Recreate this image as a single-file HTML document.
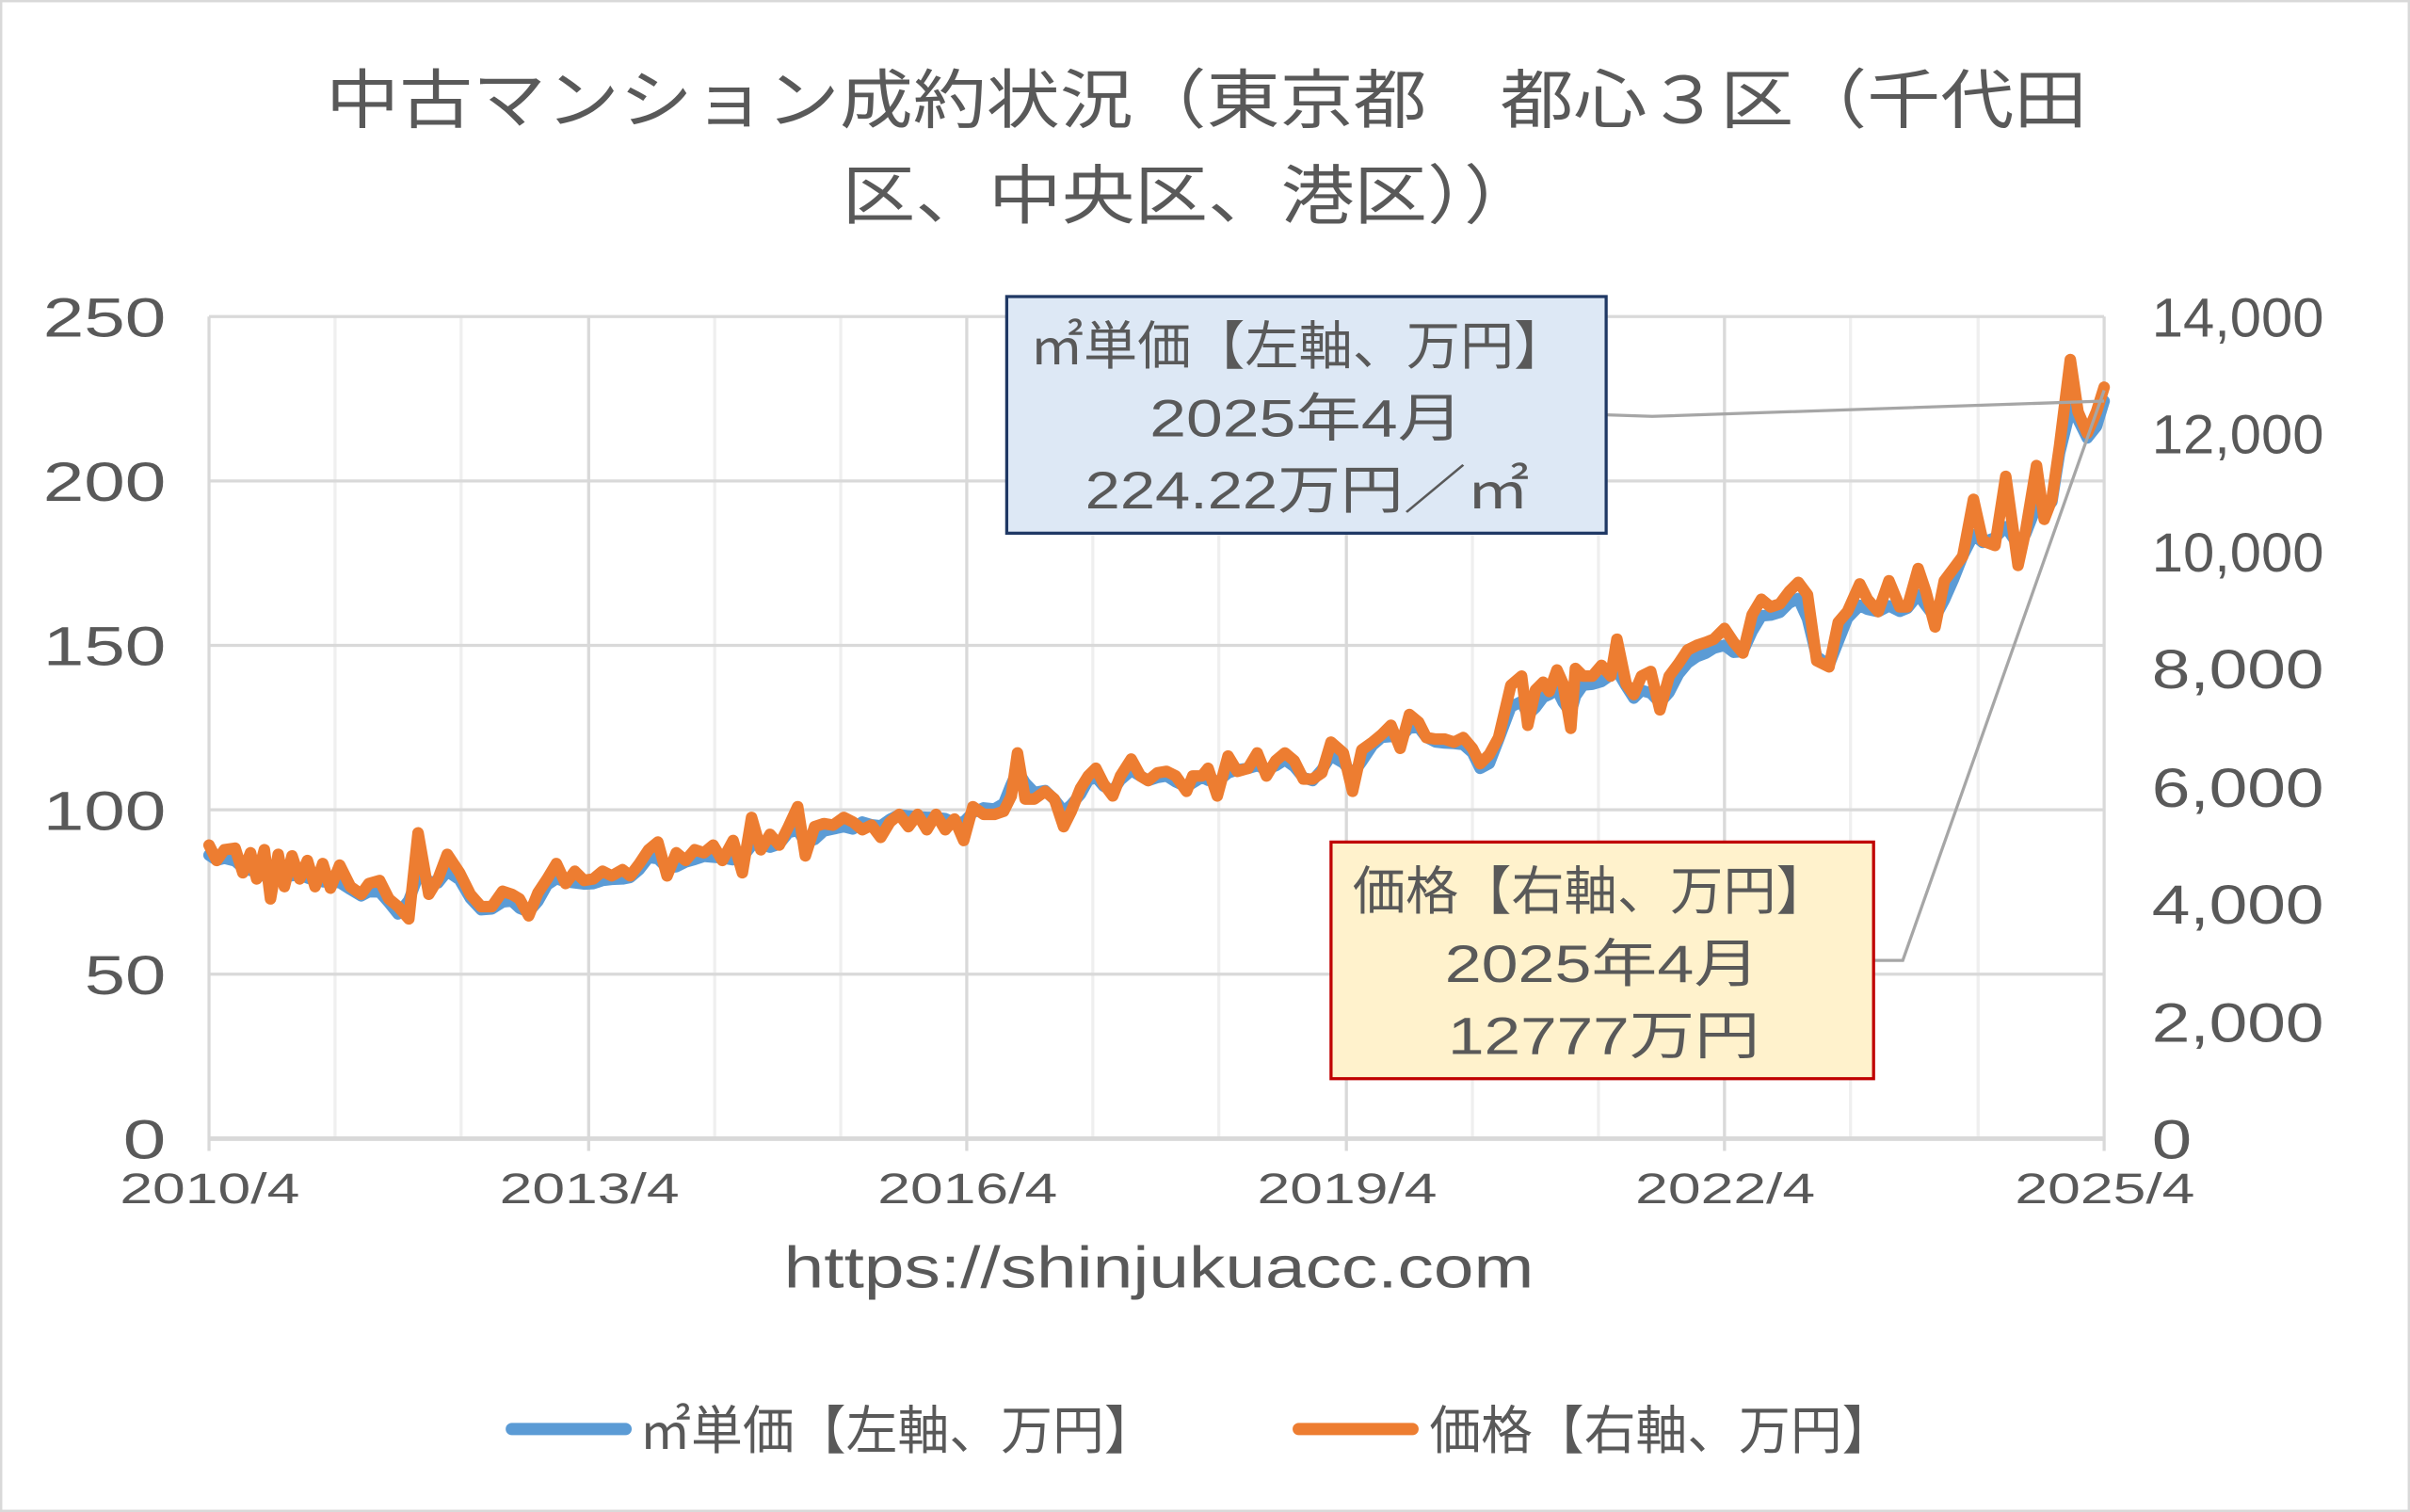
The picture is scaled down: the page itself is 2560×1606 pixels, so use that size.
<!DOCTYPE html>
<html><head><meta charset="utf-8"><style>
html,body{margin:0;padding:0;background:#fff}
svg{display:block}
text{font-family:"Liberation Sans","Noto Sans CJK JP",sans-serif;fill:#595959}
</style></head><body>
<svg id="s" width="2560" height="1606" viewBox="0 0 1568 984" preserveAspectRatio="none">
<rect x="0.5" y="0.5" width="1567" height="983" fill="#fff" stroke="#d9d9d9" stroke-width="2"/>
<g stroke="#efefef" stroke-width="2">
<line x1="218" y1="206" x2="218" y2="741"/><line x1="300" y1="206" x2="300" y2="741"/>
<line x1="465" y1="206" x2="465" y2="741"/><line x1="547" y1="206" x2="547" y2="741"/>
<line x1="711" y1="206" x2="711" y2="741"/><line x1="793" y1="206" x2="793" y2="741"/>
<line x1="958" y1="206" x2="958" y2="741"/><line x1="1040" y1="206" x2="1040" y2="741"/>
<line x1="1204" y1="206" x2="1204" y2="741"/><line x1="1287" y1="206" x2="1287" y2="741"/>
</g>
<g stroke="#d9d9d9" stroke-width="2">
<line x1="136" y1="206" x2="136" y2="749"/><line x1="383" y1="206" x2="383" y2="749"/>
<line x1="629" y1="206" x2="629" y2="749"/><line x1="876" y1="206" x2="876" y2="749"/>
<line x1="1122" y1="206" x2="1122" y2="749"/><line x1="1369" y1="206" x2="1369" y2="749"/>
<line x1="136" y1="206" x2="1369" y2="206"/><line x1="136" y1="313" x2="1369" y2="313"/>
<line x1="136" y1="420" x2="1369" y2="420"/><line x1="136" y1="527" x2="1369" y2="527"/>
<line x1="136" y1="634" x2="1369" y2="634"/>
</g>
<line x1="136" y1="741" x2="1369" y2="741" stroke="#d9d9d9" stroke-width="3"/>
<text x="212" y="80" font-size="42" textLength="1146" lengthAdjust="spacingAndGlyphs">中古マンション成約状況（東京都　都心３区（千代田</text>
<text x="548" y="142" font-size="42" textLength="452" lengthAdjust="spacingAndGlyphs">区、中央区、港区））</text>
<g font-size="36" lengthAdjust="spacingAndGlyphs">
<text x="80" y="754" textLength="28" lengthAdjust="spacingAndGlyphs">0</text>
<text x="55" y="647" textLength="53" lengthAdjust="spacingAndGlyphs">50</text>
<text x="28" y="540" textLength="80" lengthAdjust="spacingAndGlyphs">100</text>
<text x="28" y="433" textLength="80" lengthAdjust="spacingAndGlyphs">150</text>
<text x="28" y="326" textLength="80" lengthAdjust="spacingAndGlyphs">200</text>
<text x="28" y="219" textLength="80" lengthAdjust="spacingAndGlyphs">250</text>
</g>
<g font-size="36">
<text x="1400" y="754" textLength="26" lengthAdjust="spacingAndGlyphs">0</text>
<text x="1400" y="678" textLength="112" lengthAdjust="spacingAndGlyphs">2,000</text>
<text x="1400" y="601" textLength="112" lengthAdjust="spacingAndGlyphs">4,000</text>
<text x="1400" y="525" textLength="112" lengthAdjust="spacingAndGlyphs">6,000</text>
<text x="1400" y="448" textLength="112" lengthAdjust="spacingAndGlyphs">8,000</text>
<text x="1400" y="372" textLength="112" lengthAdjust="spacingAndGlyphs">10,000</text>
<text x="1400" y="295" textLength="112" lengthAdjust="spacingAndGlyphs">12,000</text>
<text x="1400" y="219" textLength="112" lengthAdjust="spacingAndGlyphs">14,000</text>
</g>
<g font-size="28">
<text x="78" y="783" textLength="117" lengthAdjust="spacingAndGlyphs">2010/4</text>
<text x="325" y="783" textLength="117" lengthAdjust="spacingAndGlyphs">2013/4</text>
<text x="571" y="783" textLength="117" lengthAdjust="spacingAndGlyphs">2016/4</text>
<text x="818" y="783" textLength="117" lengthAdjust="spacingAndGlyphs">2019/4</text>
<text x="1064" y="783" textLength="117" lengthAdjust="spacingAndGlyphs">2022/4</text>
<text x="1311" y="783" textLength="117" lengthAdjust="spacingAndGlyphs">2025/4</text>
</g>
<text x="510" y="838" font-size="38" textLength="488" lengthAdjust="spacingAndGlyphs">https://shinjukuacc.com</text>
<polyline id="blue" fill="none" stroke="#5b9bd5" stroke-width="7.5" stroke-linejoin="round" stroke-linecap="round"/>
<polyline id="orange" fill="none" stroke="#ed7d31" stroke-width="7.5" stroke-linejoin="round" stroke-linecap="round"/>
<polyline points="1045,270 1075,271 1369,261" fill="none" stroke="#a6a6a6" stroke-width="2"/>
<polyline points="1219,625 1238,625 1369,254" fill="none" stroke="#a6a6a6" stroke-width="2"/>
<rect x="655" y="193" width="390" height="154" fill="#dde8f5" stroke="#1f3864" stroke-width="2"/>
<g font-size="34">
<text x="670" y="237" textLength="350" lengthAdjust="spacingAndGlyphs">㎡単価【左軸、万円】</text>
<text x="748" y="284" textLength="204" lengthAdjust="spacingAndGlyphs">2025年4月</text>
<text x="706" y="331" textLength="289" lengthAdjust="spacingAndGlyphs">224.22万円／㎡</text>
</g>
<rect x="866" y="548" width="353" height="154" fill="#fff2cc" stroke="#c00000" stroke-width="2"/>
<g font-size="34">
<text x="880" y="592" textLength="310" lengthAdjust="spacingAndGlyphs">価格【右軸、万円】</text>
<text x="940" y="639" textLength="205" lengthAdjust="spacingAndGlyphs">2025年4月</text>
<text x="942" y="686" textLength="203" lengthAdjust="spacingAndGlyphs">12777万円</text>
</g>
<line x1="333" y1="930" x2="407" y2="930" stroke="#5b9bd5" stroke-width="8" stroke-linecap="round"/>
<text x="416" y="943" font-size="34" textLength="336" lengthAdjust="spacingAndGlyphs">㎡単価【左軸、万円】</text>
<line x1="845" y1="930" x2="919" y2="930" stroke="#ed7d31" stroke-width="8" stroke-linecap="round"/>
<text x="930" y="943" font-size="34" textLength="302" lengthAdjust="spacingAndGlyphs">価格【右軸、万円】</text>
</svg>
<script>
var o=[[136,550],[141,560],[146,553],[153,552],[158,568],[163,555],[167,572],[172,553],[176,585],[181,556],[185,577],[190,557],[195,572],[200,560],[205,577],[210,562],[215,578],[221,563],[228,577],[235,582],[240,575],[247,573],[253,585],[259,590],[266,598],[272,542],[279,582],[285,572],[291,556],[299,568],[306,582],[313,590],[320,590],[327,580],[333,582],[338,585],[344,596],[350,581],[356,572],[362,562],[368,575],[374,567],[380,573],[386,572],[392,567],[398,570],[405,566],[410,570],[416,562],[422,553],[428,548],[434,570],[440,555],[446,560],[452,553],[458,555],[464,550],[470,560],[477,547],[483,568],[489,532],[495,553],[501,543],[507,550],[513,538],[519,525],[524,557],[530,538],[536,536],[542,537],[549,532],[555,535],[561,540],[567,537],[573,545],[579,535],[585,530],[591,538],[597,530],[603,540],[609,530],[615,540],[621,533],[627,547],[633,525],[640,530],[647,530],[653,528],[658,518],[662,490],[667,520],[673,520],[680,515],[686,520],[692,538],[697,528],[703,513],[708,505],[713,500],[718,510],[724,518],[729,505],[736,494],[742,505],[747,508],[753,503],[759,502],[765,505],[772,515],[776,505],[782,505],[786,500],[792,518],[799,492],[805,502],[812,500],[818,490],[824,505],[830,495],[836,490],[842,495],[848,507],[854,507],[860,503],[866,483],[874,490],[880,515],[886,488],[893,483],[899,478],[905,472],[911,487],[917,465],[923,470],[928,480],[934,481],[940,481],[946,483],[952,480],[958,487],[963,497],[969,491],[975,480],[983,446],[990,440],[994,472],[999,449],[1004,444],[1008,450],[1013,436],[1017,445],[1022,474],[1025,435],[1030,440],[1036,440],[1042,433],[1048,440],[1052,416],[1058,445],[1063,452],[1068,440],[1074,437],[1080,462],[1086,440],[1092,432],[1098,423],[1104,420],[1110,418],[1115,416],[1122,409],[1128,418],[1134,425],[1140,400],[1146,390],[1152,395],[1158,393],[1164,385],[1170,379],[1176,387],[1182,430],[1190,434],[1196,405],[1202,398],[1210,380],[1215,390],[1222,398],[1229,378],[1236,395],[1241,395],[1248,370],[1253,385],[1259,408],[1265,378],[1271,370],[1277,362],[1284,325],[1290,352],[1298,355],[1305,310],[1313,368],[1318,345],[1325,303],[1330,338],[1335,325],[1340,290],[1347,234],[1352,268],[1358,282],[1364,268],[1369,252]];
document.getElementById('orange').setAttribute('points',o.map(function(p){return p.join(',')}).join(' '));
var b=[];for(var i=0;i<o.length;i++){var a=o[Math.max(0,i-1)][1],c=o[Math.min(o.length-1,i+1)][1];var y=(a+2*o[i][1]+c)/4;var x=o[i][0];
var d=x<560?4:(x<700?-3:(x<960?2:(x<1340?7:10)));if(i==o.length-1)y=261,d=0;b.push(x+','+(y+d).toFixed(1));}
document.getElementById('blue').setAttribute('points',b.join(' '));
</script>
</body></html>
